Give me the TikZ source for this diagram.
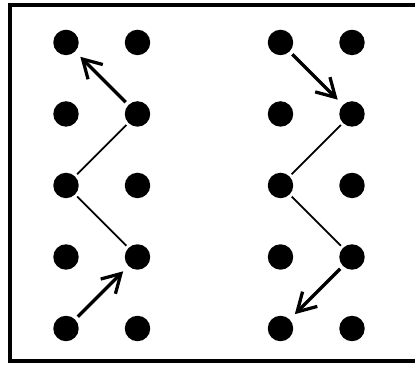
\documentclass[tikz,border=0pt]{standalone}
\usetikzlibrary{arrows.meta}
\begin{document}
\begin{tikzpicture}[dot/.style={circle,fill,inner sep=0pt,minimum size=0.356cm},
	move/.style={line width=1.3pt,-{Straight Barb[length=7.2pt,width=8.3pt]},shorten <=1.4pt,shorten >=2.8pt},
	link/.style={line width=0.7pt,shorten <=1pt,shorten >=1pt}]
	\useasboundingbox (-0.923,-0.497) rectangle (4.881,4.594);
	\draw[line width=1.6pt] (-0.783,-0.448) rectangle (5.1,4.524);
						\foreach \c [count=\n] in {0,1,3,4}
							\foreach \r in {0,...,4}
								\node[dot](N\n\r) at (\c,\r){};
						
					\draw[move] (N23) -- (N14);
					\draw[link] (N23) -- (N12);
					\draw[link] (N12) -- (N21);
					\draw[move] (N10) -- (N21);
					
					\draw[move] (N34) -- (N43);
					\draw[link] (N43) -- (N32);
					\draw[link] (N32) -- (N41);
					\draw[move] (N41) -- (N30);
\end{tikzpicture}
\end{document}
